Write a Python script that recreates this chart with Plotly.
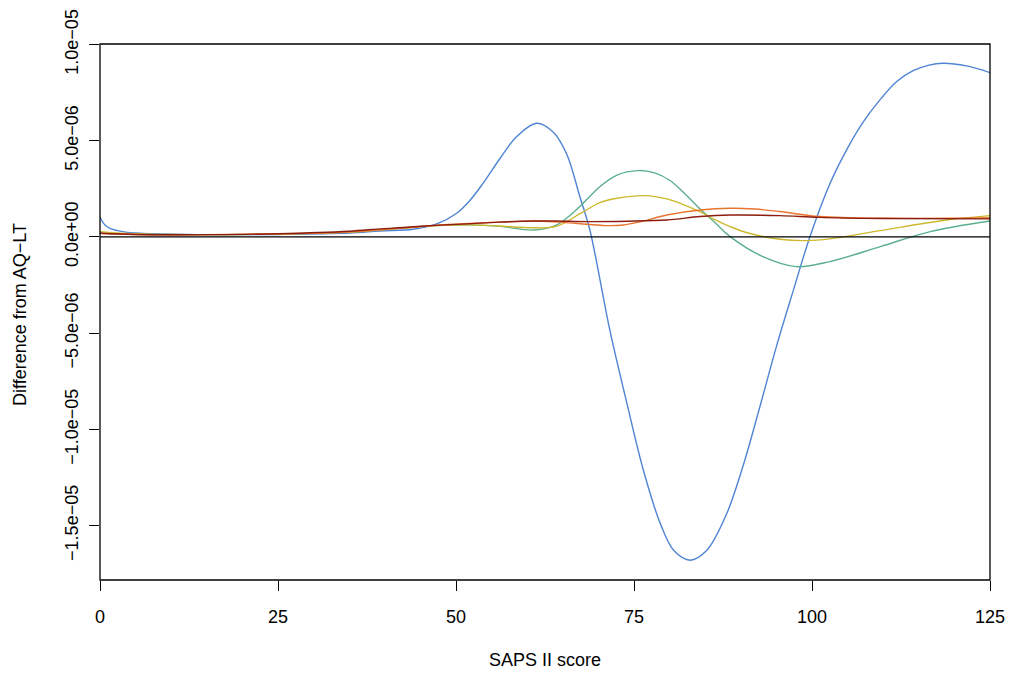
import plotly.graph_objects as go

# Values in units of 1e-6
blue_x = [0, 0.7, 1.4, 3.2, 5.6, 8.4, 15, 25, 35, 39.3, 44, 47.3, 50.1, 52, 53.8, 56.2, 58.5, 61.3, 63.6, 65.5, 67.4, 68.8,
          71.6, 74.0, 76.3, 78.7, 80.6, 82.9, 85.2, 88.0, 90.4, 92.7, 95.0, 97.4, 99.7, 102.5, 104.9, 107.2, 109.6,
          111.9, 114.2, 116.3, 118.4, 121.7, 125]
blue_y = [1.02, 0.62, 0.45, 0.28, 0.19, 0.16, 0.12, 0.13, 0.2, 0.31, 0.40, 0.68, 1.23, 1.92, 2.79, 4.09, 5.21, 5.91, 5.47, 4.35, 2.09, 0.36,
          -4.83, -8.64, -12.1, -14.9, -16.3, -16.8, -16.3, -14.4, -11.8, -8.8, -5.7, -2.75, 0.0, 2.75, 4.55, 5.98, 7.15,
          8.08, 8.64, 8.92, 9.03, 8.89, 8.54]

green_x = [0, 5, 15, 25, 35, 42, 48, 52, 56.2, 60.8, 64.1, 65.5, 67.6, 70.2, 72.6, 75.6, 78.0, 80.0, 82.0, 84.3, 86.5, 88.5, 93.1,
           97.8, 102.5, 109.6, 116.6, 125]
green_y = [0.2, 0.14, 0.12, 0.15, 0.25, 0.45, 0.6, 0.63, 0.55, 0.36, 0.62, 0.97, 1.66, 2.61, 3.22, 3.45, 3.32, 2.95, 2.3, 1.45, 0.7, 0.02, -1.02,
           -1.54, -1.28, -0.5, 0.28, 0.83]

yellow_x = [0, 3, 10, 25, 35, 42, 48, 52, 56, 60.8, 64.1, 67.6, 70.2, 72.6, 76.5, 79.6, 81.5, 84.3, 86.2, 88.5, 90.9,
            95.5, 99.2, 102.5, 109.6, 118.9, 125]
yellow_y = [0.28, 0.2, 0.13, 0.15, 0.25, 0.45, 0.6, 0.63, 0.57, 0.48, 0.55, 1.25, 1.78, 2.01, 2.15, 1.98, 1.75, 1.3, 0.93, 0.54, 0.22,
            -0.12, -0.19, -0.1, 0.33, 0.88, 1.11]

orange_x = [0, 5, 15, 25, 35, 42, 48, 53, 58, 62, 65, 68.4, 71.0, 73.5, 76.0, 79.6, 84.3, 88.5, 92, 95.5, 101.1, 110, 125]
orange_y = [0.19, 0.13, 0.12, 0.16, 0.26, 0.45, 0.62, 0.72, 0.8, 0.82, 0.76, 0.66, 0.59, 0.62, 0.8, 1.14, 1.4, 1.49, 1.45, 1.32, 1.06, 0.97, 1.0]

red_x = [0, 5, 15, 25, 35, 39.3, 42.1, 47, 51.5, 56, 60.8, 64, 68.4, 74, 79.6, 84.3, 88.5, 95.5, 101, 110, 125]
red_y = [0.19, 0.13, 0.12, 0.17, 0.3, 0.42, 0.48, 0.6, 0.68, 0.77, 0.83, 0.83, 0.8, 0.82, 0.88, 1.06, 1.14, 1.11, 1.02, 0.96, 0.94]

x_ticks = [0, 25, 50, 75, 100, 125]
y_ticks = [1.0e-05, 5.0e-06, 0.0, -5.0e-06, -1.0e-05, -1.5e-05]
y_ticktext = ["1.0e\u221205", "5.0e\u221206", "0.0e+00", "\u22125.0e\u221206", "\u22121.0e\u221205", "\u22121.5e\u221205"]

series = [
    (blue_x, blue_y, "#4F84D4"),
    (green_x, green_y, "#5CAF8E"),
    (yellow_x, yellow_y, "#CDB82F"),
    (orange_x, orange_y, "#E8742F"),
    (red_x, red_y, "#8C1D10"),
]

fig = go.Figure()
for xs, ys, col in series:
    fig.add_trace(go.Scatter(x=xs, y=[v * 1e-6 for v in ys], mode="lines",
                             line=dict(color=col, width=1.4, shape="spline", smoothing=1.0),
                             showlegend=False, hoverinfo="skip"))

font = dict(family="Liberation Sans, Arial, sans-serif", size=18, color="black")

fig.update_layout(
    width=1009, height=673,
    margin=dict(l=100, r=19, t=44, b=93, autoexpand=False),
    paper_bgcolor="white", plot_bgcolor="white",
    font=font,
    xaxis=dict(range=[0, 125], tickvals=x_ticks, ticks="outside", ticklen=10, tickcolor="black",
               tickwidth=1, showgrid=False, zeroline=False, showline=False, tickfont=font,
               ticklabelstandoff=10, automargin=False),
    yaxis=dict(range=[-1.783e-05, 1.003e-05], tickvals=y_ticks, ticktext=y_ticktext, ticks="outside",
               ticklen=10, tickcolor="black", tickwidth=1, showgrid=False, zeroline=False, showline=False,
               tickangle=-90, tickfont=font, ticklabelstandoff=4, automargin=False),
    shapes=[
        dict(type="line", xref="paper", yref="y", x0=0, x1=1, y0=0, y1=0,
             line=dict(color="black", width=1.3), layer="above"),
        dict(type="rect", xref="paper", yref="paper", x0=0, x1=1, y0=0, y1=1,
             line=dict(color="black", width=1.3), layer="above"),
    ],
    annotations=[
        dict(text="SAPS II score", xref="paper", yref="paper", x=0.5, y=(580 - 660) / 536,
             xanchor="center", yanchor="middle", showarrow=False, font=font),
        dict(text="Difference from AQ\u2212LT", xref="paper", yref="paper", x=(20 - 100) / 890, y=(580 - 315) / 536,
             xanchor="center", yanchor="middle", textangle=-90, showarrow=False, font=font),
    ],
)

fig.write_html("out.html")
